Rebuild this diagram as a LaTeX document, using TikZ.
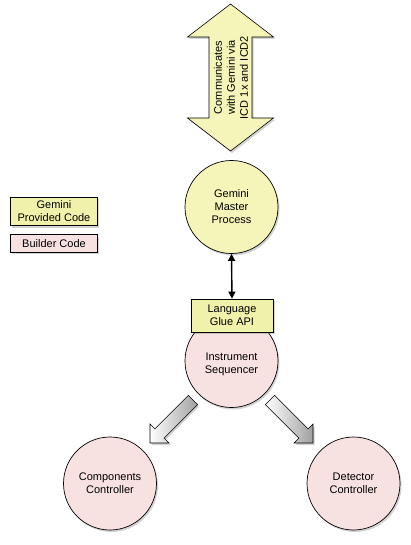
\documentclass[tikz,border=0pt]{standalone}
\usepackage{fontspec}
\setmainfont{Liberation Sans}
\usetikzlibrary{shadows,arrows.meta}
\definecolor{gyellow}{RGB}{245,245,185}
\definecolor{byellow}{RGB}{240,242,172}
\definecolor{bpink}{RGB}{248,225,225}
\tikzset{
  shad/.style={drop shadow={shadow xshift=1.5pt,shadow yshift=-2pt,opacity=0.35}},
  circ/.style={circle,draw=black,line width=0.7pt,minimum size=93pt,inner sep=0pt,align=center,font=\fontsize{11}{13}\selectfont,shad},
  legbox/.style={rectangle,draw=black,line width=0.7pt,inner sep=0pt,align=center,font=\fontsize{11}{13}\selectfont,shad},
  fat/.style={draw=black,line width=0.6pt,left color=white,right color=gray!75,shad},
}
\begin{document}
\begin{tikzpicture}[x=1pt,y=-1pt]
\useasboundingbox (0,0) rectangle (411,545);
% big double arrow
\path[draw=black,line width=0.6pt,fill=gyellow,shad]
  (230.5,4) -- (273.5,37) -- (252,37) -- (252,118) -- (273.5,118) -- (230.5,151)
  -- (187.5,118) -- (209,118) -- (209,37) -- (187.5,37) -- cycle;
\node[rotate=90,align=center,font=\fontsize{11}{13}\selectfont] (ext) at (231,77.5)
  {Communicates\\with Gemini via\\ICD 1x and ICD2};
% legend
\node[legbox,fill=byellow,minimum width=87pt,minimum height=28pt] (leg1) at (54,211.5) {Gemini\\Provided Code};
\node[legbox,fill=bpink,minimum width=87pt,minimum height=17.5pt] (leg2) at (54,243.5) {Builder Code};
% circles
\node[circ,fill=gyellow] (gmp) at (231.5,207) {Gemini\\Master\\Process};
\node[circ,fill=bpink] (seq) at (231.5,361) {\\[1pt]Instrument\\Sequencer};
\node[legbox,fill=byellow,minimum width=82pt,minimum height=33pt] (glue) at (232,315.5) {Language\\Glue API};
\node[circ,fill=bpink] (comp) at (110,483.5) {Components\\Controller};
\node[circ,fill=bpink] (det) at (353.5,483.5) {Detector\\Controller};
% double arrow
\draw[line width=1.4pt,{Triangle[length=7pt,width=7pt]}-{Triangle[length=7pt,width=7pt]}] (gmp.south) -- (glue.north);
% fat arrows
\path[fat] (188.4,395.4) -- (154.9,428.9) -- (150,424) -- (150,443) -- (169,443) -- (164.1,438.1) -- (197.6,404.6) -- cycle;
\path[fat] (274.6,395.4) -- (308.1,428.9) -- (313,424) -- (313,443) -- (294,443) -- (298.9,438.1) -- (265.4,404.6) -- cycle;
\end{tikzpicture}
\end{document}
